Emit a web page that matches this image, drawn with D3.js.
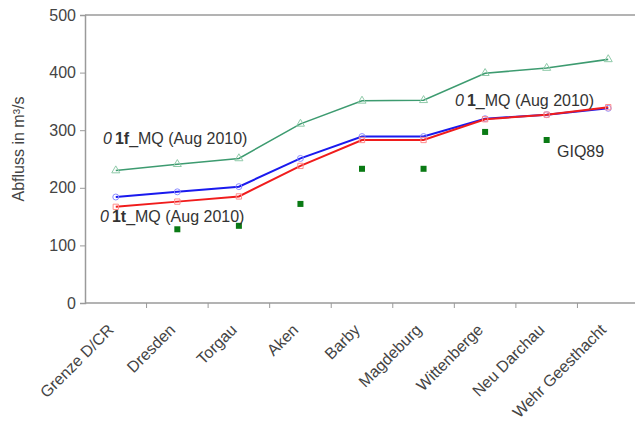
<!DOCTYPE html>
<html>
<head>
<meta charset="utf-8">
<script src="https://cdn.jsdelivr.net/npm/d3@7"></script>
<style>
  body { margin: 0; background: #fff; }
  svg text { font-family: "Liberation Sans", Arial, sans-serif; }
</style>
</head>
<body>
<figure style="margin:0"></figure>
<script>
(() => {

  // ---------- data ----------
  const stations = ["Grenze D/CR", "Dresden", "Torgau", "Aken", "Barby", "Magdeburg",
    "Wittenberge", "Neu Darchau", "Wehr Geesthacht"]
  const mq01f = [230, 241, 251, 311, 351, 352, 399, 408, 423]
  const mq01 = [184, 193, 202, 251, 289, 289, 320, 327, 338]
  const mq01t = [167, 176, 185, 238, 283, 283, 319, 327, 340]
  const giq89 = [null, 128, 134, 172, 233, 233, 297, 283, null]
  const yTicks = [0, 100, 200, 300, 400, 500]

  // ---------- svg setup ----------
  const svgWidth = 635, svgHeight = 421
  const margin = { left: 85, right: -4, top: 15, bottom: 118 }
  const width = svgWidth - margin.left - margin.right
  const height = svgHeight - margin.top - margin.bottom

  const svg = d3.select('figure')
    .append('svg')
    .attr('width', svgWidth)
    .attr('height', svgHeight)
    .append('g')
    .attr('transform', `translate(${margin.left},${margin.top})`)

  // ---------- scales ----------
  const x = d3.scaleBand().domain(stations).range([0, width])
  const cx = d => x(d) + x.bandwidth() / 2
  const y = d3.scaleLinear().domain([0, 500]).range([height, 0])

  // top border line at 500
  svg.append('line')
    .attr('x1', 0).attr('x2', svgWidth)
    .attr('y1', y(500)).attr('y2', y(500))
    .attr('stroke', '#9a9a9a').attr('stroke-width', 1.5)

  // y axis
  const yAxis = svg.append('g')
    .call(d3.axisLeft(y).tickValues(yTicks).tickSize(5).tickPadding(4))
  yAxis.select('.domain').attr('stroke', '#9a9a9a').attr('stroke-width', 1.5)
  yAxis.selectAll('.tick line').attr('stroke', '#9a9a9a')
  yAxis.selectAll('.tick text')
    .style('font-size', '16px').attr('fill', '#444')

  // x axis: ticks at band boundaries
  const xg = svg.append('g').attr('transform', `translate(0,${height})`)
  xg.append('line')
    .attr('x1', 0).attr('x2', svgWidth)
    .attr('stroke', '#9a9a9a').attr('stroke-width', 1.5)
  xg.selectAll('.xt')
    .data(stations.slice(1))
    .enter().append('line')
    .attr('x1', d => x(d)).attr('x2', d => x(d))
    .attr('y1', 0).attr('y2', 5)
    .attr('stroke', '#9a9a9a')
  xg.selectAll('.xl')
    .data(stations)
    .enter().append('text')
    .attr('transform', d => `translate(${cx(d) - 9},${20}) rotate(-45)`)
    .attr('text-anchor', 'end')
    .attr('dy', '0.7em')
    .style('font-size', '16px')
    .attr('fill', '#444')
    .text(d => d)

  // y title
  svg.append('text')
    .attr('transform', `translate(${18 - margin.left},${149 - margin.top}) rotate(-90)`)
    .attr('text-anchor', 'middle')
    .attr('dy', '0.35em')
    .style('font-size', '16px')
    .attr('fill', '#444')
    .text('Abfluss in m³/s')

  // ---------- lines ----------
  const series = [
    { key: '01f', values: mq01f, line: '#3d9b70', mark: '#8fcaa9', shape: d3.symbolTriangle, w: 1.6 },
    { key: '01', values: mq01, line: '#1a1aee', mark: '#8c8cff', shape: d3.symbolCircle, w: 2 },
    { key: '01t', values: mq01t, line: '#f01c1c', mark: '#ff8c8c', shape: d3.symbolSquare, w: 2 }
  ]

  const line = d3.line()
    .defined(d => d.v != null)
    .x(d => cx(d.s))
    .y(d => y(d.v))

  series.forEach(s => {
    const pts = stations.map((st, i) => ({ s: st, v: s.values[i] }))
    svg.append('path')
      .datum(pts)
      .attr('fill', 'none')
      .attr('stroke', s.line)
      .attr('stroke-width', s.w)
      .attr('d', line)
    svg.selectAll(null)
      .data(pts)
      .enter().append('path')
      .attr('transform', d => `translate(${cx(d.s)},${y(d.v)})`)
      .attr('d', d3.symbol().type(s.shape).size(28))
      .attr('fill', 'none')
      .attr('stroke', s.mark)
      .attr('stroke-width', 1)
  })

  // GIQ89 points
  svg.selectAll('.giq')
    .data(stations.map((st, i) => ({ s: st, v: giq89[i] })).filter(d => d.v != null))
    .enter().append('rect')
    .attr('x', d => cx(d.s) - 3)
    .attr('y', d => y(d.v) - 3)
    .attr('width', 6).attr('height', 6)
    .attr('fill', '#0a7a14')

  // ---------- annotations ----------
  function label(px, py, bold, rest) {
    const t = svg.append('text')
      .attr('x', px - margin.left).attr('y', py - margin.top)
      .attr('dy', '0.35em')
      .style('font-size', '16px')
      .attr('fill', '#333')
    t.append('tspan').style('font-style', 'italic').text('0')
    t.append('tspan').attr('dx', 3).style('font-weight', 'bold').text(bold)
    t.append('tspan').text(rest)
  }
  label(103, 138, '1f', '_MQ (Aug 2010)')
  label(100, 216, '1t', '_MQ (Aug 2010)')
  label(455, 100, '1', '_MQ (Aug 2010)')

  svg.append('text')
    .attr('x', 557 - margin.left).attr('y', 151 - margin.top)
    .attr('dy', '0.35em')
    .style('font-size', '16px')
    .attr('fill', '#333')
    .text('GIQ89')

})()
</script>
</body>
</html>
